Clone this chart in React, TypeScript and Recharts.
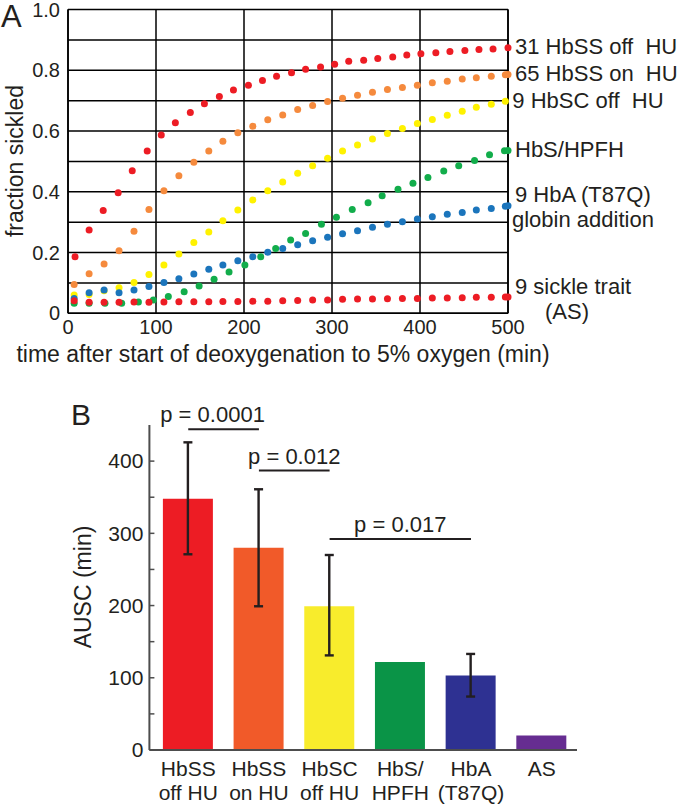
import React from 'react';
import {
  ScatterChart, Scatter, XAxis, YAxis, CartesianGrid,
  BarChart, Bar, Cell, ErrorBar, ReferenceLine,
} from 'recharts';

const FONT = '"Liberation Sans", Arial, Helvetica, sans-serif';
const INK = '#231f20';

// ---- panel A: fraction sickled vs time ----
const T_RED = [8, 24, 40, 57, 73, 90, 106, 122, 139, 155, 172, 188, 205, 221, 237, 254, 270, 287, 303, 319, 336, 352, 369, 385, 401, 418, 434, 451, 467, 483, 500];
const T_STD = [7, 24, 41, 58, 75, 92, 109, 126, 143, 160, 176, 193, 210, 227, 244, 261, 278, 295, 312, 329, 346, 363, 380, 397, 414, 431, 448, 464, 481, 497, 500];
const T_GREEN = [7, 24, 42, 61, 80, 97, 114, 132, 149, 166, 183, 201, 219, 236, 253, 270, 288, 305, 323, 341, 357, 375, 392, 409, 427, 444, 462, 479, 496, 500];

const HBSS_OFF = [0.186, 0.274, 0.338, 0.397, 0.469, 0.534, 0.587, 0.627, 0.661, 0.690, 0.714, 0.735, 0.751, 0.766, 0.780, 0.792, 0.803, 0.811, 0.820, 0.830, 0.833, 0.839, 0.844, 0.850, 0.854, 0.858, 0.862, 0.865, 0.868, 0.870, 0.874];
const HBSS_ON = [0.095, 0.130, 0.162, 0.206, 0.270, 0.342, 0.403, 0.453, 0.497, 0.534, 0.566, 0.594, 0.616, 0.637, 0.653, 0.671, 0.684, 0.697, 0.708, 0.718, 0.728, 0.737, 0.743, 0.751, 0.759, 0.764, 0.771, 0.775, 0.780, 0.785, 0.786];
const HBSC_OFF = [0.060, 0.062, 0.074, 0.084, 0.101, 0.128, 0.159, 0.195, 0.233, 0.268, 0.305, 0.340, 0.373, 0.403, 0.432, 0.461, 0.486, 0.510, 0.534, 0.554, 0.574, 0.592, 0.608, 0.625, 0.638, 0.652, 0.665, 0.678, 0.688, 0.698];
const HBS_HPFH = [0.033, 0.033, 0.033, 0.033, 0.037, 0.044, 0.055, 0.071, 0.090, 0.112, 0.136, 0.159, 0.186, 0.213, 0.241, 0.263, 0.293, 0.316, 0.342, 0.364, 0.387, 0.408, 0.428, 0.447, 0.468, 0.486, 0.503, 0.522, 0.535, 0.536];
const HBA_T87Q = [0.049, 0.068, 0.077, 0.068, 0.077, 0.088, 0.101, 0.114, 0.129, 0.145, 0.159, 0.173, 0.186, 0.201, 0.213, 0.226, 0.239, 0.250, 0.262, 0.272, 0.283, 0.293, 0.301, 0.310, 0.318, 0.326, 0.332, 0.340, 0.345, 0.352, 0.354];
const SICKLE_TRAIT = [0.041, 0.036, 0.036, 0.036, 0.037, 0.036, 0.037, 0.038, 0.038, 0.038, 0.039, 0.039, 0.040, 0.040, 0.041, 0.042, 0.044, 0.044, 0.046, 0.047, 0.047, 0.048, 0.049, 0.049, 0.050, 0.050, 0.051, 0.053, 0.053, 0.054, 0.054];

const X_TICKS = [0, 100, 200, 300, 400, 500];
const Y_TICKS = [0, 0.1, 0.2, 0.3, 0.4, 0.5, 0.6, 0.7, 0.8, 0.9, 1.0];

// drawn in this order (last one on top)
const SERIES = [
  { name: 'HbSC', times: T_STD, values: HBSC_OFF, color: '#fff200', label: ['9 HbSC off  HU'] },
  { name: 'HbSS on', times: T_STD, values: HBSS_ON, color: '#f58a3d', label: ['65 HbSS on  HU'] },
  { name: 'HPFH', times: T_GREEN, values: HBS_HPFH, color: '#12ad4b', label: ['HbS/HPFH'] },
  { name: 'T87Q', times: T_STD, values: HBA_T87Q, color: '#1b75bc', label: ['9 HbA (T87Q)', 'globin addition'] },
  { name: 'HbSS off', times: T_RED, values: HBSS_OFF, color: '#ed1c24', label: ['31 HbSS off  HU'] },
  { name: 'AS', times: T_STD, values: SICKLE_TRAIT, color: '#ed1c24', label: ['9 sickle trait', '(AS)'] },
];

// ---- panel B: AUSC bars ----
const GROUPS = ['HbSS off HU', 'HbSS on HU', 'HbSC off HU', 'HbS/HPFH', 'HbA (T87Q)', 'AS'];
const GROUP_LINES = [['HbSS', 'off HU'], ['HbSS', 'on HU'], ['HbSC', 'off HU'], ['HbS/', 'HPFH'], ['HbA', '(T87Q)'], ['AS']];
const AUSC = [348, 280, 199, 122, 103, 20];
const AUSC_LOW = [271, 199, 131, null, 74, null];
const AUSC_HIGH = [426, 361, 270, null, 133, null];
const BAR_COLORS = ['#ed1c24', '#f15a29', '#f8ec2c', '#0a9447', '#2e3192', '#662d91'];
const B_TICKS = [0, 50, 100, 150, 200, 250, 300, 350, 400];

const BRACKETS = [
  { from: 'HbSS off HU', to: 'HbSS on HU', y: 444, text: 'p = 0.0001' },
  { from: 'HbSS on HU', to: 'HbSC off HU', y: 387, text: 'p = 0.012' },
  { from: 'HbSC off HU', to: 'HbA (T87Q)', y: 292, text: 'p = 0.017' },
];

const barData = GROUPS.map((g, i) => ({
  name: g,
  v: AUSC[i],
  err: AUSC_LOW[i] == null ? undefined : [AUSC[i] - AUSC_LOW[i]!, AUSC_HIGH[i]! - AUSC[i]],
}));

// second label lines: 'globin…' sits a touch left, '(AS)' is indented
const lineShift = (s: string) => (s.startsWith('globin') ? 4 : s === '(AS)' ? 37 : 7);

function makeDot(color: string, lines: string[]) {
  return (p: any) => {
    const { cx, cy, payload } = p;
    const two = lines.length > 1;
    return (
      <g>
        <circle cx={cx} cy={cy} r={3.5} fill={color} />
        {payload?.last && lines.map((s, i) => (
          <text
            key={i}
            x={cx + lineShift(s)}
            y={cy + (two ? (i === 0 ? -11 : 14) : -1)}
            dy="0.35em"
            fontSize={22}
            fontFamily={FONT}
            fill={INK}
            style={{ whiteSpace: 'pre' }}
          >
            {s}
          </text>
        ))}
      </g>
    );
  };
}

const FracTick = ({ x, y, payload }: any) => {
  const tenth = Math.round(payload.value * 10);
  if (tenth % 2) return <g />;
  return (
    <text x={x} y={y} dy="0.35em" textAnchor="end" fontSize={20} fontFamily={FONT} fill={INK}>
      {tenth === 0 ? '0' : (tenth / 10).toFixed(1)}
    </text>
  );
};

const AuscTick = ({ x, y, payload }: any) => {
  const v = payload.value;
  return (
    <g>
      <line x1={x + 6} x2={x + 11} y1={y} y2={y} stroke="#4d4d4d" strokeWidth={1.5} />
      {v % 100 === 0 && (
        <text x={x} y={y} dy="0.35em" textAnchor="end" fontSize={21} fontFamily={FONT} fill={INK}>{v}</text>
      )}
    </g>
  );
};

const GroupTick = ({ x, y, payload }: any) => {
  const lines = GROUP_LINES[GROUPS.indexOf(payload.value)] || [payload.value];
  return (
    <g>
      {lines.map((s, i) => (
        <text key={i} x={x} y={y + 26 + i * 24} textAnchor="middle" fontSize={21} fontFamily={FONT} fill={INK}>{s}</text>
      ))}
    </g>
  );
};

function PanelA() {
  return (
    <ScatterChart width={683} height={374} margin={{ top: 9.5, right: 165, bottom: 20.7, left: 8 }}>
      <CartesianGrid stroke="#000" strokeWidth={1.5} />
      <XAxis
        type="number"
        dataKey="x"
        domain={[0, 500]}
        ticks={X_TICKS}
        tickLine={false}
        tickSize={0}
        tickMargin={6}
        height={40}
        axisLine={{ stroke: '#000', strokeWidth: 1.6 }}
        tick={{ fontSize: 20, fill: INK, fontFamily: FONT }}
        label={{
          content: () => (
            <text x={283} y={354} textAnchor="middle" dominantBaseline="central" fontSize={23} fontFamily={FONT} fill={INK}>
              time after start of deoxygenation to 5% oxygen (min)
            </text>
          ),
        }}
      />
      <YAxis
        type="number"
        dataKey="y"
        domain={[0, 1]}
        ticks={Y_TICKS}
        width={60}
        tickLine={false}
        tickSize={0}
        tickMargin={8}
        axisLine={{ stroke: '#000', strokeWidth: 1.6 }}
        tick={FracTick}
        label={{
          content: () => (
            <text transform="translate(15,161) rotate(-90)" textAnchor="middle" dominantBaseline="central" fontSize={23} fontFamily={FONT} fill={INK}>
              fraction sickled
            </text>
          ),
        }}
      />
      <YAxis
        yAxisId="r"
        orientation="right"
        type="number"
        domain={[0, 1]}
        ticks={Y_TICKS}
        width={10}
        tickSize={4}
        tickLine={{ stroke: '#000', strokeWidth: 1.5 }}
        tickFormatter={() => ''}
        axisLine={{ stroke: '#000', strokeWidth: 1.6 }}
      />
      {SERIES.map((s) => {
        const data = s.values.map((v, i) => ({ x: s.times[i], y: v, last: i === s.values.length - 1 }));
        return (
          <Scatter
            key={s.name}
            name={s.name}
            data={data}
            fill={s.color}
            shape={makeDot(s.color, s.label)}
            isAnimationActive={false}
          />
        );
      })}
    </ScatterChart>
  );
}

function PanelB() {
  return (
    <BarChart width={683} height={444} data={barData} margin={{ top: 65, right: 106, bottom: 0, left: 0 }} barSize={50}>
      <XAxis
        dataKey="name"
        height={54}
        interval={0}
        padding={{ left: 3.5, right: 0 }}
        tickLine={false}
        tickSize={0}
        tickMargin={0}
        axisLine={{ stroke: '#4d4d4d', strokeWidth: 2 }}
        tick={GroupTick}
      />
      <YAxis
        width={149.4}
        domain={[0, 450]}
        ticks={B_TICKS}
        tickLine={false}
        tickSize={0}
        tickMargin={6}
        axisLine={{ stroke: '#4d4d4d', strokeWidth: 2 }}
        tick={AuscTick}
        label={{
          content: () => (
            <text transform="translate(83,227) rotate(-90)" textAnchor="middle" dominantBaseline="central" fontSize={23} fontFamily={FONT} fill={INK}>
              AUSC (min)
            </text>
          ),
        }}
      />
      <Bar dataKey="v" isAnimationActive={false}>
        {barData.map((d, i) => (
          <Cell key={d.name} fill={BAR_COLORS[i]} />
        ))}
        <ErrorBar dataKey="err" width={4.5} strokeWidth={2.4} stroke={INK} isAnimationActive={false} />
      </Bar>
      {BRACKETS.map((b, i) => (
        <ReferenceLine
          key={b.text}
          segment={[{ x: b.from, y: b.y }, { x: b.to, y: b.y }]}
          stroke={INK}
          strokeWidth={2}
          label={{ value: b.text, position: 'top', offset: 7, dx: i === 0 ? -11 : 0, fill: INK, fontSize: 22, fontFamily: FONT }}
        />
      ))}
    </BarChart>
  );
}

export default function App() {
  return (
    <div style={{ position: 'absolute', left: 0, top: 0, width: 683, height: 804, background: '#fff', fontFamily: FONT, color: INK }}>
      <div style={{ position: 'absolute', left: 0, top: 0 }}>
        <PanelA />
      </div>
      <div style={{ position: 'absolute', left: 0, top: 360 }}>
        <PanelB />
      </div>
      <div style={{ position: 'absolute', left: 1, top: 1, fontSize: 31, lineHeight: '31px' }}>A</div>
      <div style={{ position: 'absolute', left: 71, top: 400, fontSize: 30, lineHeight: '30px' }}>B</div>
    </div>
  );
}
